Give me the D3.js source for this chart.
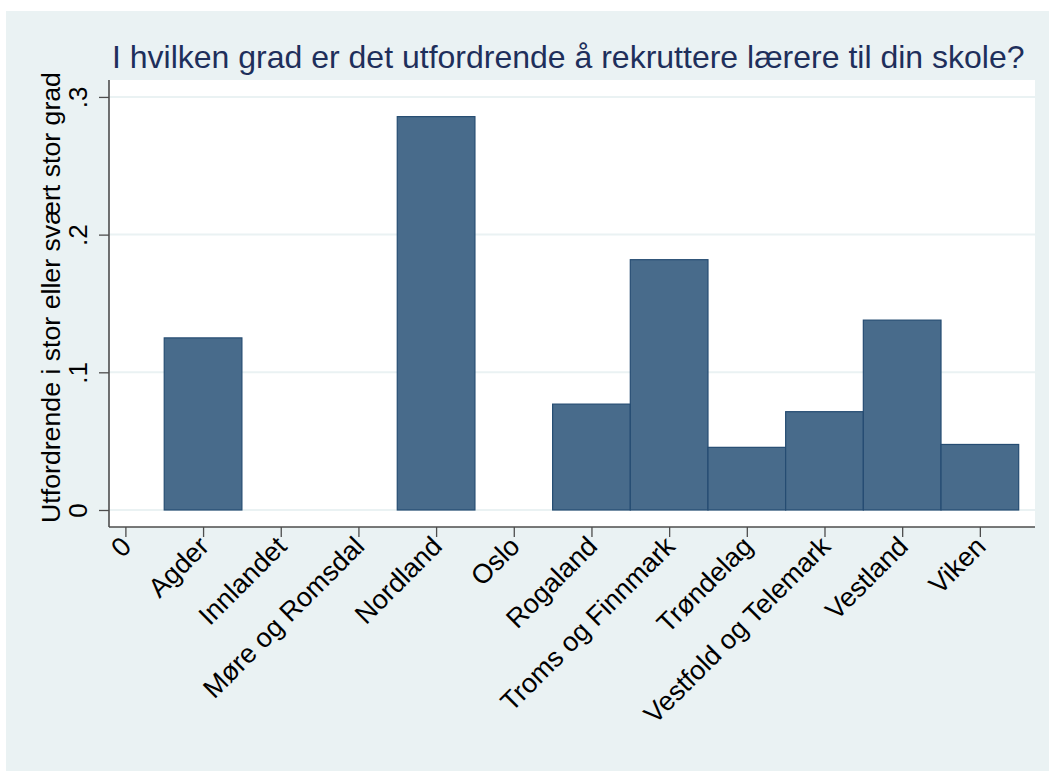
<!DOCTYPE html>
<html>
<head>
<meta charset="utf-8">
<script src="https://cdn.jsdelivr.net/npm/d3@7"></script>
<style>
  body { margin: 0; background: #fff; }
  text { font-family: Arial, "Liberation Sans", sans-serif; }
</style>
</head>
<body>
<div id="chart"></div>
<script>
"use strict";

// regions and share answering "stor / svært stor grad"
var regions = ["Agder", "Innlandet", "Møre og Romsdal", "Nordland", "Oslo", "Rogaland",
  "Troms og Finnmark", "Trøndelag", "Vestfold og Telemark", "Vestland", "Viken"];
var shares = [0.125, 0, 0, 0.2857, 0, 0.0769, 0.1818, 0.0455, 0.0714, 0.1379, 0.0476];
var xTickLabels = ["0"].concat(regions);
var yTicks = [0, 0.1, 0.2, 0.3];
var yTickLabels = ["0", ".1", ".2", ".3"];

var titleText = "I hvilken grad er det utfordrende å rekruttere lærere til din skole?";
var yTitle = "Utfordrende i stor eller svært stor grad";

var W = 1049, H = 771;
var plot = {left: 109, right: 1035, top: 80, bottom: 527};

var svg = d3.select("#chart").append("svg")
  .attr("width", W)
  .attr("height", H);

// outer graph region
svg.append("rect")
  .attr("x", 6).attr("y", 11)
  .attr("width", W - 6).attr("height", H - 11)
  .attr("fill", "#eaf2f3");

// plot region
svg.append("rect")
  .attr("x", plot.left).attr("y", plot.top)
  .attr("width", plot.right - plot.left).attr("height", plot.bottom - plot.top)
  .attr("fill", "#ffffff");

var x = d3.scaleLinear().domain([-0.211, 11.71]).range([plot.left, plot.right]);
var y = d3.scaleLinear().domain([-0.01235, 0.3123]).range([plot.bottom, plot.top]);

// gridlines
svg.append("g").selectAll("line")
  .data(yTicks)
  .enter().append("line")
  .attr("x1", plot.left).attr("x2", plot.right)
  .attr("y1", function(d){ return y(d); })
  .attr("y2", function(d){ return y(d); })
  .attr("stroke", "#eaf2f3")
  .attr("stroke-width", 2);

// bars
svg.append("g").selectAll("rect")
  .data(shares)
  .enter().append("rect")
  .attr("x", function(d, i){ return x(i + 1 - 0.5); })
  .attr("width", function(d, i){ return x(i + 1.5) - x(i + 0.5); })
  .attr("y", function(d){ return y(d); })
  .attr("height", function(d){ return y(0) - y(d); })
  .attr("fill", function(d){ return d > 0 ? "#486b8b" : "none"; })
  .attr("stroke", function(d){ return d > 0 ? "#254c72" : "none"; })
  .attr("stroke-width", 1.2);

// y axis
var yAxis = d3.axisLeft(y)
  .tickValues(yTicks)
  .tickSize(10)
  .tickFormat(function(d, i){ return yTickLabels[i]; });

var gy = svg.append("g")
  .attr("transform", "translate(" + plot.left + ",0)")
  .call(yAxis);
gy.select(".domain").attr("d", "M0," + plot.top + "V" + plot.bottom)
  .attr("stroke", "#4d4d4d").attr("stroke-width", 1.6);
gy.selectAll(".tick line").attr("stroke", "#4d4d4d").attr("stroke-width", 1.3);
gy.selectAll(".tick text")
  .attr("x", null).attr("dy", null)
  .attr("text-anchor", "middle")
  .attr("transform", "translate(-22,0) rotate(-90)")
  .attr("fill", "#000")
  .style("font-size", "26px");

// x axis
var xAxis = d3.axisBottom(x)
  .tickValues(d3.range(0, xTickLabels.length))
  .tickSize(10)
  .tickFormat(function(d){ return xTickLabels[d]; });

var gx = svg.append("g")
  .attr("transform", "translate(0," + plot.bottom + ")")
  .call(xAxis);
gx.select(".domain").attr("d", "M" + plot.left + ",0H" + plot.right)
  .attr("stroke", "#4d4d4d").attr("stroke-width", 1.6);
gx.selectAll(".tick line").attr("stroke", "#4d4d4d").attr("stroke-width", 1.3);
gx.selectAll(".tick text")
  .attr("y", null).attr("dy", null)
  .attr("text-anchor", "end")
  .attr("transform", "translate(7,21) rotate(-45)")
  .attr("fill", "#000")
  .style("font-size", "27px");

// y axis title
svg.append("text")
  .attr("transform", "translate(60,297.5) rotate(-90)")
  .attr("text-anchor", "middle")
  .attr("fill", "#000")
  .style("font-size", "26.7px")
  .text(yTitle);

// title
svg.append("text")
  .attr("x", 112)
  .attr("y", 68)
  .attr("fill", "#1e2f5b")
  .style("font-size", "32px")
  .text(titleText);
</script>
</body>
</html>
